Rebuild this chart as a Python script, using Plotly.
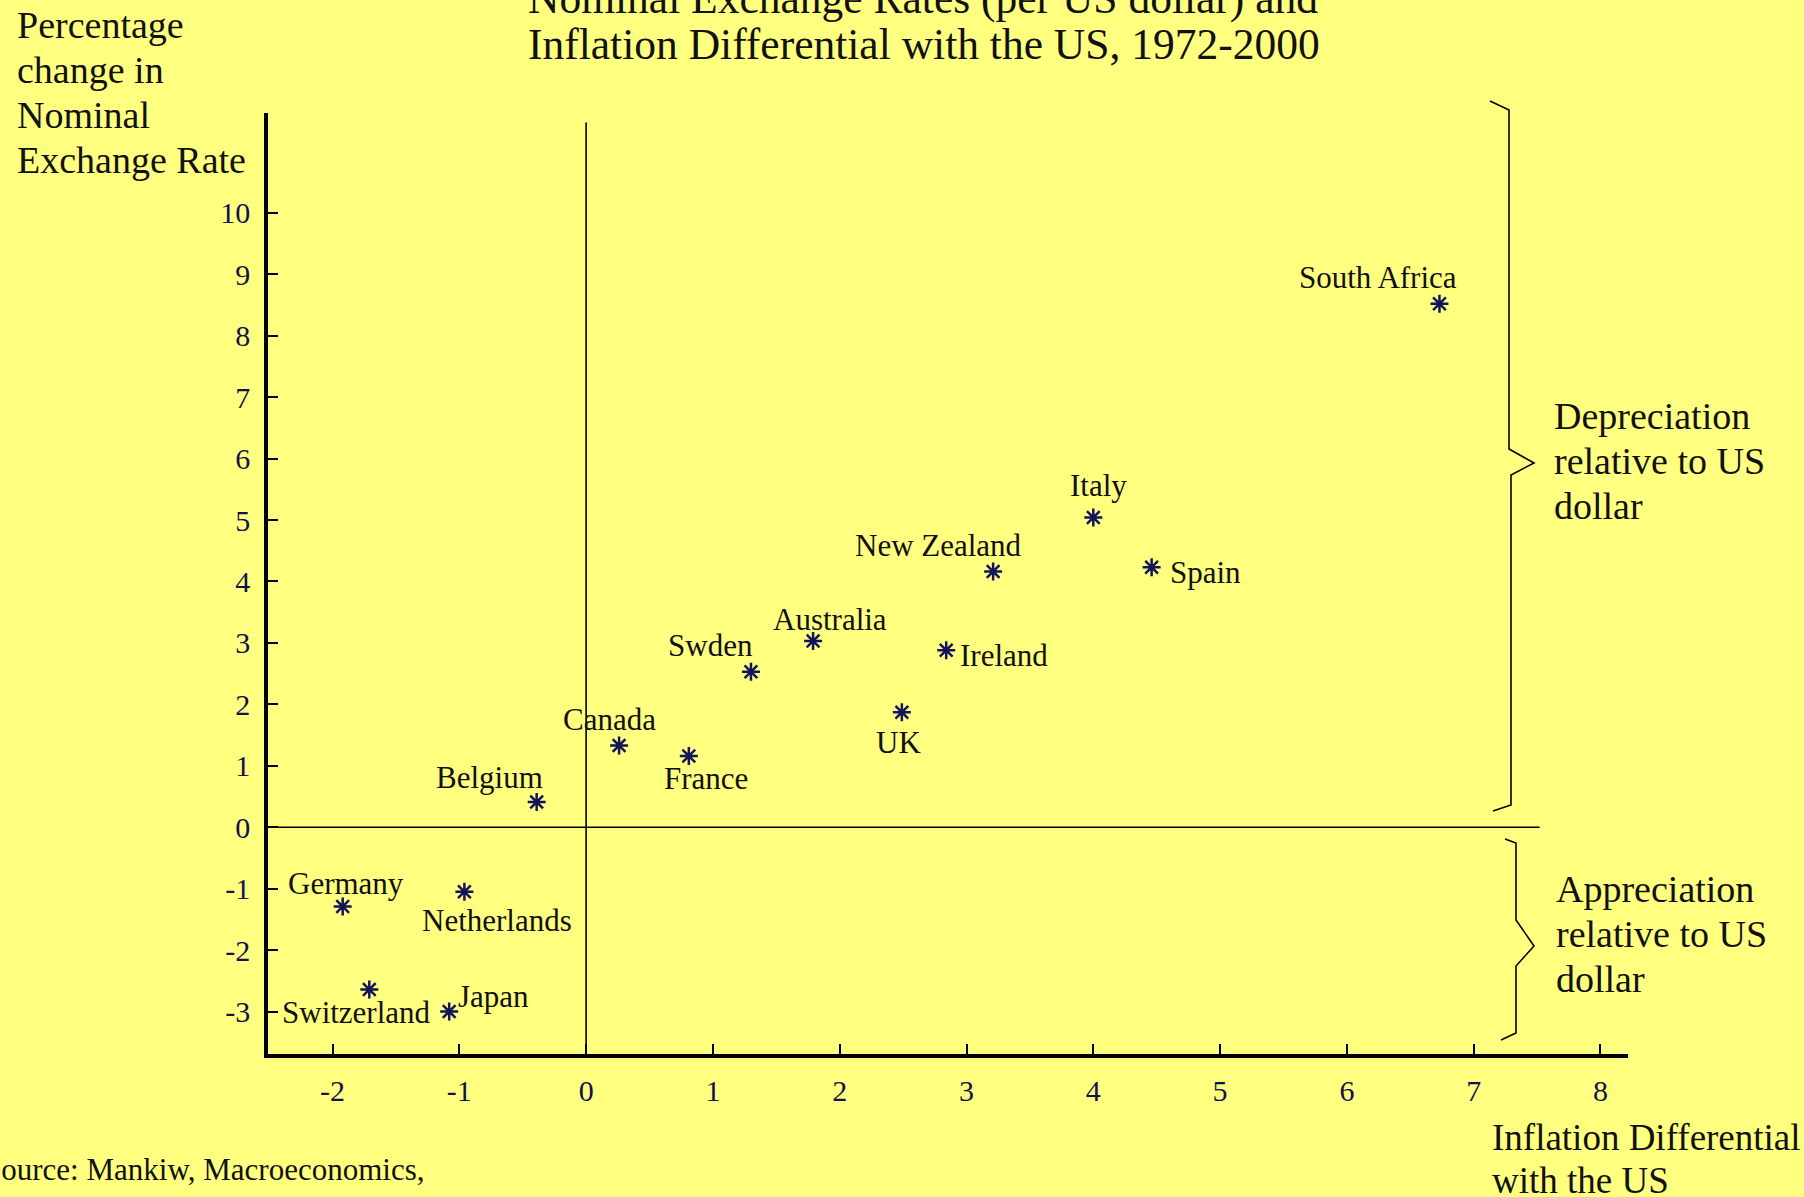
import plotly.graph_objects as go

# ---- data ----
countries = ["South Africa", "Italy", "Spain", "New Zealand", "Australia", "Ireland",
             "Swden", "UK", "Canada", "France", "Belgium", "Germany", "Netherlands",
             "Switzerland", "Japan"]
inflation_diff = [6.73, 4.00, 4.46, 3.21, 1.79, 2.84, 1.30, 2.49, 0.26, 0.81, -0.39,
                  -1.92, -0.96, -1.71, -1.08]
exchange_change = [8.52, 5.04, 4.23, 4.16, 3.03, 2.88, 2.53, 1.87, 1.33, 1.16, 0.41,
                   -1.29, -1.05, -2.64, -3.00]
x_ticks = [-2, -1, 0, 1, 2, 3, 4, 5, 6, 7, 8]
x_tick_labels = ["-2", "-1", "0", "1", "2", "3", "4", "5", "6", "7", "8"]
y_ticks = [-3, -2, -1, 0, 1, 2, 3, 4, 5, 6, 7, 8, 9, 10]
y_tick_labels = ["-3", "-2", "-1", "0", "1", "2", "3", "4", "5", "6", "7", "8", "9", "10"]

# ---- layout / style ----
W, H = 1804, 1197
L, R, T, B = 268, 1628, 113, 1054  # plot area in pixels
BG = "#FFFF80"
FONT = "Liberation Serif"
MARK = "#14145a"

# label offsets (pixels) relative to each point
label_dx = [-61, 5, 54, -55, 17, 58, -40, -3, -10, 17, -47, 3, 33, -13, 44]
label_dy = [-26, -32, 5, -26, -22, 5, -26, 30, -26, 23, -25, -23, 29, 23, -15]


def px(x):
    return (x - L) / (R - L)


def py(y):
    return (B - y) / (B - T)


fig = go.Figure()
fig.add_trace(go.Scatter(
    x=inflation_diff, y=exchange_change, mode="markers",
    marker=dict(symbol="asterisk-open", size=15, color=MARK, line=dict(color=MARK, width=2.5)),
    hoverinfo="text", text=countries, showlegend=False,
))

ann = []
for name, xv, yv, dx, dy in zip(countries, inflation_diff, exchange_change, label_dx, label_dy):
    ann.append(dict(x=xv, y=yv, xref="x", yref="y", text=name, showarrow=False,
                    xshift=dx, yshift=-dy, font=dict(family=FONT, size=31, color="#111111"),
                    xanchor="center", yanchor="middle"))


def ptext(text, x, y, size, xanchor="left", color="#111111"):
    ann.append(dict(x=px(x), y=py(y), xref="paper", yref="paper", text=text,
                    showarrow=False, xanchor=xanchor, yanchor="middle",
                    font=dict(family=FONT, size=size, color=color)))


# title (first line partly cut off at top of page, as in the original)
ptext("Nominal Exchange Rates (per US dollar) and", 526, -1, 43.5)
ptext("Inflation Differential with the US, 1972-2000", 526, 44, 43.5)
# y axis title
for i, line in enumerate(["Percentage", "change in", "Nominal", "Exchange Rate"]):
    ptext(line, 15, 25 + 45 * i, 38)
# x axis title
ptext("Inflation Differential", 1490, 1137, 37)
ptext("with the US", 1490, 1180, 37)
# brace labels
for i, line in enumerate(["Depreciation", "relative to US", "dollar"]):
    ptext(line, 1552, 416 + 45 * i, 38)
for i, line in enumerate(["Appreciation", "relative to US", "dollar"]):
    ptext(line, 1554, 889 + 45 * i, 38)
# source
ptext("Source: Mankiw, Macroeconomics,", -18, 1169, 31)

shapes = []
# zero reference lines
shapes.append(dict(type="line", xref="x", yref="y", x0=-2.509, x1=7.52, y0=0, y1=0,
                   line=dict(color="black", width=1.6)))
shapes.append(dict(type="line", xref="x", yref="y", x0=0, x1=0, y0=-3.69, y1=11.47,
                   line=dict(color="black", width=1.6)))


def brace(points):
    d = "M " + " L ".join(f"{px(a):.5f},{py(b):.5f}" for a, b in points)
    shapes.append(dict(type="path", xref="paper", yref="paper", path=d,
                       line=dict(color="black", width=1.6)))


brace([(1490, 101), (1509, 110), (1509, 449), (1534, 463), (1511, 475), (1511, 805), (1493, 811)])
brace([(1505, 839), (1516, 843), (1516, 920), (1534, 946), (1516, 966), (1516, 1033), (1501, 1040)])

axis_common = dict(showgrid=False, zeroline=False, showline=True, linecolor="black",
                   linewidth=3.5, ticks="inside", ticklen=10, tickwidth=2, tickcolor="black",
                   tickfont=dict(family=FONT, size=30, color="#12124a"))

fig.update_layout(
    width=W, height=H,
    margin=dict(l=L, r=W - R, t=T, b=H - B, pad=0),
    paper_bgcolor=BG, plot_bgcolor=BG,
    xaxis=dict(range=[-2.509, 8.217], tickvals=x_ticks, ticktext=x_tick_labels,
               ticklabelstandoff=7, **axis_common),
    yaxis=dict(range=[-3.691, 11.624], tickvals=y_ticks, ticktext=y_tick_labels,
               ticklabelstandoff=8, **axis_common),
    annotations=ann, shapes=shapes, showlegend=False,
)

fig.write_html("out.html",
               config={"displayModeBar": False},
               post_script="document.body.style.margin='0';"
                           "document.documentElement.style.overflow='hidden';"
                           "document.body.style.background='" + BG + "';")
